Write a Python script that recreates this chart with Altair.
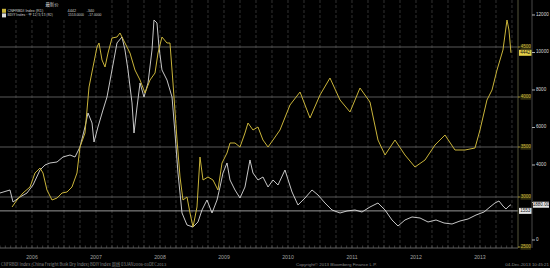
import altair as alt
import pandas as pd

# ---- data (fractional year, value) ----
white_t = [2006.000, 2006.156, 2006.203, 2006.313, 2006.422, 2006.516, 2006.625, 2006.703, 2006.781, 2006.891,
           2006.984, 2007.094, 2007.172, 2007.250, 2007.328, 2007.375, 2007.438, 2007.469, 2007.531, 2007.609,
           2007.672, 2007.750, 2007.828, 2007.906, 2007.953, 2008.000, 2008.063, 2008.094, 2008.141, 2008.188,
           2008.250, 2008.313, 2008.375, 2008.406, 2008.453, 2008.484, 2008.531, 2008.609, 2008.688, 2008.734,
           2008.781, 2008.844, 2008.922, 2009.016, 2009.094, 2009.156, 2009.234, 2009.313, 2009.391, 2009.438,
           2009.484, 2009.547, 2009.594, 2009.672, 2009.750, 2009.828, 2009.906, 2009.953, 2010.031, 2010.109,
           2010.188, 2010.266, 2010.344, 2010.453, 2010.563, 2010.656, 2010.766, 2010.875, 2010.969, 2011.078,
           2011.188, 2011.313, 2011.422, 2011.547, 2011.656, 2011.781, 2011.906, 2012.016, 2012.125, 2012.219,
           2012.328, 2012.438, 2012.563, 2012.688, 2012.813, 2012.938, 2013.063, 2013.188, 2013.313, 2013.438,
           2013.563, 2013.656, 2013.734, 2013.797, 2013.859, 2013.906, 2013.953, 2013.984]
white_v = [2507, 2667, 2027, 2293, 2507, 2933, 3733, 4000, 4107, 4160,
           4427, 4533, 4427, 4960, 6027, 6773, 6240, 5227, 6027, 6933,
           7627, 9067, 10507, 10827, 10133, 9067, 7307, 5707, 7093, 8373,
           7627, 8373, 10133, 11733, 11573, 10293, 9067, 8533, 7627, 5707,
           3573, 1440, 800, 693, 960, 1600, 2133, 1440, 2133, 2827,
           3573, 4107, 3200, 2667, 2240, 2827, 4267, 3573, 3200, 3360,
           2827, 3200, 2933, 3733, 2560, 1867, 2240, 2667, 2400, 1973,
           1600, 1440, 1547, 1600, 1493, 1760, 1973, 1600, 1067, 747,
           1067, 1227, 1173, 960, 1067, 907, 853, 1013, 1120, 1333,
           1493, 1760, 1973, 2080, 1813, 1653, 1813, 1880]

yellow_t = [2006.188, 2006.266, 2006.359, 2006.469, 2006.547, 2006.625, 2006.672, 2006.734, 2006.813, 2006.891,
            2006.969, 2007.047, 2007.125, 2007.203, 2007.250, 2007.328, 2007.391, 2007.453, 2007.516, 2007.547,
            2007.594, 2007.641, 2007.688, 2007.750, 2007.828, 2007.875, 2007.953, 2008.031, 2008.109, 2008.188,
            2008.266, 2008.344, 2008.422, 2008.469, 2008.531, 2008.609, 2008.656, 2008.703, 2008.766, 2008.813,
            2008.859, 2008.922, 2008.969, 2009.016, 2009.078, 2009.125, 2009.172, 2009.250, 2009.328, 2009.406,
            2009.469, 2009.547, 2009.594, 2009.672, 2009.750, 2009.828, 2009.875, 2009.953, 2010.031, 2010.109,
            2010.188, 2010.266, 2010.375, 2010.531, 2010.688, 2010.844, 2011.000, 2011.156, 2011.313, 2011.469,
            2011.625, 2011.781, 2011.906, 2012.016, 2012.172, 2012.328, 2012.484, 2012.641, 2012.797, 2012.953,
            2013.109, 2013.266, 2013.422, 2013.500, 2013.609, 2013.688, 2013.766, 2013.859, 2013.922, 2013.953,
            2013.984]
yellow_v = [2900, 2970, 3040, 3100, 3240, 3290, 3240, 3070, 2970, 2990,
            3040, 3050, 3100, 3240, 3500, 3640, 4100, 4300, 4500, 4540,
            4370, 4300, 4440, 4590, 4600, 4640, 4540, 4440, 4270, 4170,
            4040, 4170, 4240, 4440, 4600, 4540, 4540, 4140, 3570, 3200,
            2970, 3000, 2840, 2700, 2900, 3400, 3170, 3200, 3170, 3070,
            3340, 3440, 3540, 3540, 3500, 3640, 3740, 3670, 3700, 3570,
            3500, 3570, 3670, 3920, 4050, 3790, 4020, 4190, 3970, 3850,
            4090, 3950, 3570, 3420, 3570, 3420, 3300, 3370, 3520, 3620,
            3470, 3470, 3490, 3670, 3970, 4070, 4270, 4470, 4770, 4670,
            4442]

years = [2006, 2007, 2008, 2009, 2010, 2011, 2012, 2013]
yellow_ticks = [2500, 3000, 3500, 4000, 4500]
white_ticks = [0, 2000, 4000, 6000, 8000, 10000, 12000]
yellow_last = 4442
white_last = 1880
ref_level = 1553

legend_header = "最新价"
legend_row1 = ["CNFRBDI Index  (R1)", "4442", "-340"]
legend_row2 = ["BDIY Index - 平 12/3/13  (R2)", "1553.0000", "-17.0000"]
footer_left = "CNFRBDI Index (China Freight Bulk Dry Index)  BDIY Index  周线 03JAN2006-03DEC2013"
footer_mid = "Copyright© 2013 Bloomberg Finance L.P."
footer_right = "04-Dec-2013 10:45:21"

# ---- layout constants ----
W, H = 518, 248
FONT = "Liberation Sans"
YEL = "#c9b43a"
WHT = "#dcdcdc"

xs = alt.Scale(domain=[2006.0, 2014.094], nice=False, zero=False)
ys_y = alt.Scale(domain=[2490, 4970], nice=False, zero=False)
ys_w = alt.Scale(domain=[-427, 12800], nice=False, zero=False)

X = lambda: alt.X("t:Q", scale=xs, axis=None)
YY = lambda: alt.Y("v:Q", scale=ys_y, axis=None)
YW = lambda: alt.Y("v:Q", scale=ys_w, axis=None)

white_df = pd.DataFrame({"t": white_t, "v": white_v})
yellow_df = pd.DataFrame({"t": yellow_t, "v": yellow_v})
quarters = pd.DataFrame({"t": [2006 + q / 4 for q in range(1, 33)]})
months = pd.DataFrame({"t": [2006 + m / 12 for m in range(0, 97)]})
year_df = pd.DataFrame({"t": [y + 0.5 for y in years], "label": [str(y) for y in years]})
yt_df = pd.DataFrame({"v": yellow_ticks, "lbl": [str(v) for v in yellow_ticks]})
wt_df = pd.DataFrame({"v": white_ticks, "lbl": [str(v) for v in white_ticks]})
# the label nearest the last-value box is hidden behind it in the reference
wt_lbl_df = wt_df[(wt_df.v - white_last).abs() > 600]


def txt(s, x, y, color="#cfcfcf", size=4.6, align="left", font=FONT):
    return alt.Chart(pd.DataFrame({"s": [s]})).mark_text(
        align=align, baseline="middle", color=color, fontSize=size, font=font
    ).encode(x=alt.value(x), y=alt.value(y), text="s:N")


layers = []
# vertical quarter gridlines
layers.append(alt.Chart(quarters).mark_rule(color="#3e3e3e", strokeWidth=0.8, strokeDash=[3, 2]).encode(
    x=X(), y=alt.value(0), y2=alt.value(H)))
# horizontal gridlines (yellow axis)
layers.append(alt.Chart(yt_df[yt_df.v > 2500]).mark_rule(color="#6e6e6e", strokeWidth=0.8).encode(
    y=YY(), x=alt.value(0), x2=alt.value(W)))
# reference level line
layers.append(alt.Chart(pd.DataFrame({"v": [ref_level]})).mark_rule(color="#a8a8a8", strokeWidth=0.9).encode(
    y=YW(), x=alt.value(0), x2=alt.value(W)))
# bottom axis line and month ticks
layers.append(alt.Chart(pd.DataFrame({"a": [0]})).mark_rule(color="#7a7a7a", strokeWidth=0.8).encode(
    y=alt.value(H), x=alt.value(0), x2=alt.value(W)))
layers.append(alt.Chart(months).mark_rule(color="#666666", strokeWidth=0.6).encode(
    x=X(), y=alt.value(H - 2.5), y2=alt.value(H)))
# series
layers.append(alt.Chart(white_df).mark_line(color=WHT, strokeWidth=0.9).encode(x=X(), y=YW()))
layers.append(alt.Chart(yellow_df).mark_line(color=YEL, strokeWidth=1.0).encode(x=X(), y=YY()))
# right axis lines
layers.append(alt.Chart(pd.DataFrame({"a": [0]})).mark_rule(color="#6b6a4a", strokeWidth=0.8).encode(
    x=alt.value(W), y=alt.value(0), y2=alt.value(H)))
layers.append(alt.Chart(pd.DataFrame({"a": [0]})).mark_rule(color="#5a5a5a", strokeWidth=0.8).encode(
    x=alt.value(532), y=alt.value(0), y2=alt.value(H)))
# yellow axis labels
layers.append(alt.Chart(yt_df).mark_rule(color=YEL, strokeWidth=0.8).encode(
    y=YY(), x=alt.value(W), x2=alt.value(520.5)))
layers.append(alt.Chart(yt_df).mark_rule(color="#2f2c0c", strokeWidth=5.5, strokeCap="butt").encode(
    y=YY(), x=alt.value(520.5), x2=alt.value(531)))
layers.append(alt.Chart(yt_df).mark_text(color=YEL, fontSize=4.6, font=FONT, align="center").encode(
    y=YY(), x=alt.value(525.8), text="lbl:N"))
# white axis labels
layers.append(alt.Chart(wt_df).mark_rule(color=WHT, strokeWidth=0.8).encode(
    y=YW(), x=alt.value(532), x2=alt.value(535)))
layers.append(alt.Chart(wt_lbl_df).mark_text(color=WHT, fontSize=4.6, font=FONT, align="left").encode(
    y=YW(), x=alt.value(536), text="lbl:N"))
# last value boxes
layers.append(alt.Chart(pd.DataFrame({"v": [yellow_last], "lbl": [str(yellow_last)]})).mark_rule(
    color="#e4d048", strokeWidth=6, strokeCap="butt").encode(y=YY(), x=alt.value(519), x2=alt.value(531.5)))
layers.append(alt.Chart(pd.DataFrame({"v": [yellow_last], "lbl": [str(yellow_last)]})).mark_text(
    color="#111111", fontSize=4.6, font=FONT, align="center").encode(y=YY(), x=alt.value(525.3), text="lbl:N"))
layers.append(alt.Chart(pd.DataFrame({"v": [ref_level], "lbl": [str(ref_level)]})).mark_rule(
    color="#e6e6e6", strokeWidth=6, strokeCap="butt").encode(y=YW(), x=alt.value(519), x2=alt.value(531.5)))
layers.append(alt.Chart(pd.DataFrame({"v": [ref_level], "lbl": [str(ref_level)]})).mark_text(
    color="#111111", fontSize=4.6, font=FONT, align="center").encode(y=YW(), x=alt.value(525.3), text="lbl:N"))
layers.append(alt.Chart(pd.DataFrame({"v": [white_last], "lbl": [f"{white_last}.00"]})).mark_rule(
    color="#e6e6e6", strokeWidth=6, strokeCap="butt").encode(y=YW(), x=alt.value(533), x2=alt.value(549)))
layers.append(alt.Chart(pd.DataFrame({"v": [white_last], "lbl": [f"{white_last}.00"]})).mark_text(
    color="#111111", fontSize=4.6, font=FONT, align="center").encode(y=YW(), x=alt.value(541), text="lbl:N"))
# year labels
layers.append(alt.Chart(year_df).mark_text(color="#a0a0a0", fontSize=5.2, font=FONT).encode(
    x=X(), y=alt.value(257), text="label:N"))
# footer
layers.append(txt(footer_left, 1, 264.5, color="#8a8a8a", size=4.2, font="Noto Sans CJK SC"))
layers.append(txt(footer_mid, 296, 264.5, color="#8a8a8a", size=4.4))
layers.append(txt(footer_right, 549, 264.5, color="#8a8a8a", size=4.4, align="right"))
# legend box
layers.append(alt.Chart(pd.DataFrame({"a": [0]})).mark_rect(color="#000000").encode(
    x=alt.value(0), x2=alt.value(103), y=alt.value(0), y2=alt.value(18.5)))
layers.append(txt(legend_header, 52, 5, color="#cfcfcf", size=4.4, align="center", font="Noto Sans CJK SC"))
layers.append(alt.Chart(pd.DataFrame({"a": [0]})).mark_rect(color=YEL).encode(
    x=alt.value(2), x2=alt.value(6), y=alt.value(8.8), y2=alt.value(12.8)))
layers.append(alt.Chart(pd.DataFrame({"a": [0]})).mark_rect(color=WHT).encode(
    x=alt.value(2), x2=alt.value(6), y=alt.value(13.4), y2=alt.value(17.4)))
layers.append(txt(legend_row1[0], 7.5, 10.8, size=3.8))
layers.append(txt(legend_row1[1], 76, 10.8, size=3.8, align="right"))
layers.append(txt(legend_row1[2], 94, 10.8, size=3.8, align="right"))
layers.append(txt(legend_row2[0], 7.5, 15.4, size=3.6, font="Noto Sans CJK SC"))
layers.append(txt(legend_row2[1], 84, 15.4, size=3.4, align="right"))
layers.append(txt(legend_row2[2], 101.5, 15.4, size=3.4, align="right"))

chart = alt.layer(*layers).resolve_scale(y="independent").properties(
    width=W, height=H,
    autosize=alt.AutoSizeParams(type="none"),
    padding={"left": 0, "top": 0, "right": 32, "bottom": 20},
    background="#000000",
).configure_view(stroke=None, fill="#000000")

chart.save("out.html", embed_options={"renderer": "svg", "actions": False})
